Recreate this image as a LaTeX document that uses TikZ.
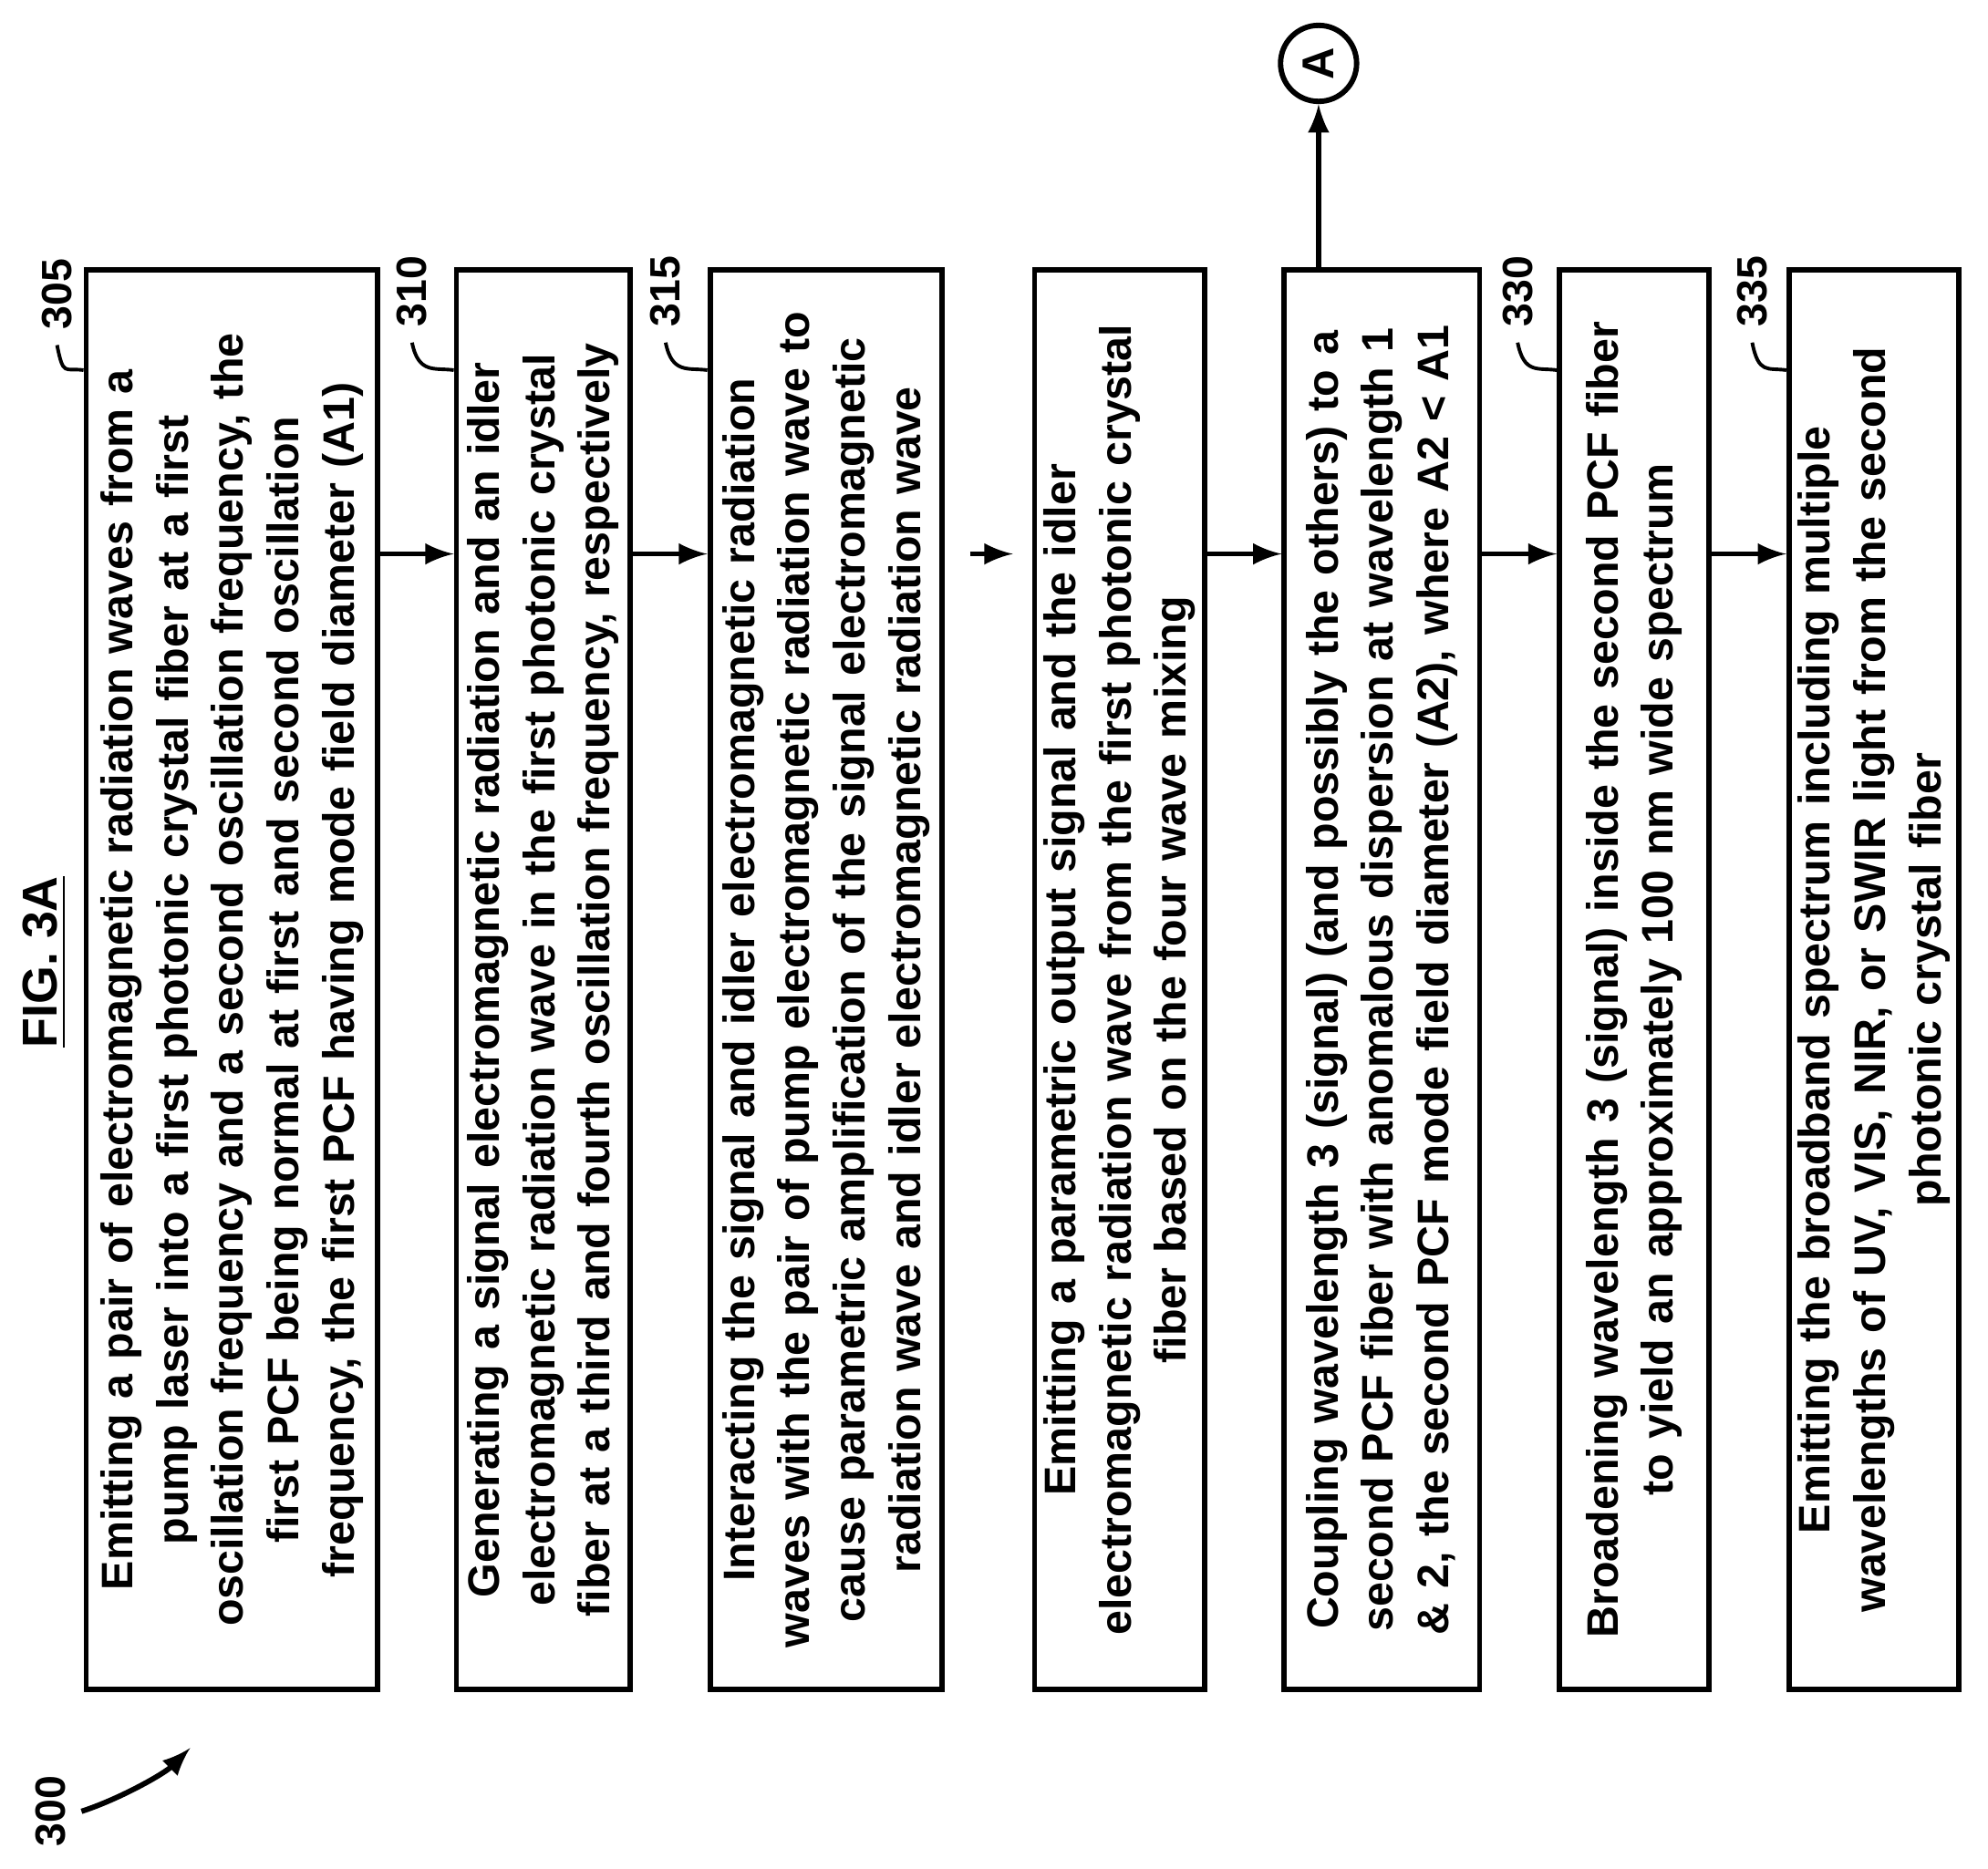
\documentclass[tikz,border=0pt]{standalone}
\usepackage{fontspec}
\setmainfont{Liberation Sans}
\usetikzlibrary{positioning}

\begin{document}
\begin{tikzpicture}[
        stepbox/.style={rectangle, draw=black, very thick, rotate=90, minimum width=11.2cm, inner sep=2pt,
                        text width=10.9cm, align=center, font=\bfseries\fontsize{9.9}{12.4}\selectfont},
        flow/.style={->, >=latex, very thick},
        reflabel/.style={rotate=90, font=\bfseries\fontsize{9.5}{10}\selectfont},
        squig/.style={thick}
      ]
        \useasboundingbox (0,0) rectangle (15.68,14.74);

        \node[stepbox, minimum height=2.30cm]  (emit)   at (1.83, 7.01)  {Emitting a pair of electromagnetic radiation waves from a\\ pump laser into a first photonic crystal fiber at a first\\ oscillation frequency and a second oscillation frequency, the\\ first PCF being normal at first and second oscillation\\ frequency, the first PCF having mode field diameter (A1)};
        \node[stepbox, minimum height=1.37cm]  (gen)    at (4.285, 7.01) {Generating a signal electromagnetic radiation and an idler\\ electromagnetic radiation wave in the first photonic crystal\\ fiber at a third and fourth oscillation frequency, respectively};
        \node[stepbox, minimum height=1.83cm]  (inter)  at (6.515, 7.01) {Interacting the signal and idler electromagnetic radiation\\ waves with the pair of pump electromagnetic radiation wave to\\ cause parametric amplification of the signal electromagnetic\\ radiation wave and idler electromagnetic radiation wave};
        \node[stepbox, minimum height=1.34cm]  (output) at (8.83, 7.01)  {Emitting a parametric output signal and the idler\\ electromagnetic radiation wave from the first photonic crystal\\ fiber based on the four wave mixing};
        \node[stepbox, minimum height=1.54cm]  (couple) at (10.90, 7.01) {Coupling wavelength 3 (signal) (and possibly the others) to a\\ second PCF fiber with anomalous dispersion at wavelength 1\\ \& 2, the second PCF mode field diameter (A2), where A2 < A1};
        \node[stepbox, minimum height=1.18cm]  (broad)  at (12.89, 7.01) {Broadening wavelength 3 (signal) inside the second PCF fiber\\ to yield an approximately 100 nm wide spectrum};
        \node[stepbox, minimum height=1.34cm]  (bband)  at (14.78, 7.01) {Emitting the broadband spectrum including multiple\\ wavelengths of UV, VIS, NIR, or SWIR light from the second\\ photonic crystal fiber};

        \coordinate (ay) at (0, 10.37);
        \coordinate (ax) at (10.40, 0);
        \draw[flow]  (emit.south |- ay)   -- (gen.north |- ay);
        \draw[flow]  (gen.south |- ay)    -- (inter.north |- ay);
        \draw[flow]  ([xshift=2mm]inter.south |- ay)  -- ([xshift=-1.5mm]output.north |- ay);
        \draw[flow]  (output.south |- ay) -- (couple.north |- ay);
        \draw[flow]  (couple.south |- ay) -- (broad.north |- ay);
        \draw[flow]  (broad.south |- ay)  -- (bband.north |- ay);

        \node[circle, draw=black, very thick, minimum size=0.6cm, inner sep=0pt, rotate=90, font=\bfseries\fontsize{10}{12}\selectfont]  (conA) at (10.40, 14.24) {A};
        \draw[flow]  (couple.east -| ax) -- (conA.west);

        % figure title and reference numerals
        \node[rotate=90, font=\bfseries\fontsize{11}{13}\selectfont] (title) at (0.35, 7.15) {\underline{FIG. 3A}};
        \node[reflabel] (n305) at (0.45, 12.42) {305};
        \node[reflabel] (n310) at (3.25, 12.44) {310};
        \node[reflabel] (n315) at (5.25, 12.44) {315};
        \node[reflabel] (n330) at (11.97, 12.44) {330};
        \node[reflabel] (n335) at (13.82, 12.44) {335};
        \draw[squig] (n305.west) .. controls +(0.05,-0.25) and +(-0.15,0.02) .. (emit.north |- 0,11.82);
        \draw[squig] (n310.west) .. controls +(0.05,-0.25) and +(-0.15,0.02) .. (gen.north |- 0,11.82);
        \draw[squig] (n315.west) .. controls +(0.05,-0.25) and +(-0.15,0.02) .. (inter.north |- 0,11.82);
        \draw[squig] (n330.west) .. controls +(0.05,-0.25) and +(-0.15,0.02) .. (broad.north |- 0,11.82);
        \draw[squig] (n335.west) .. controls +(0.05,-0.25) and +(-0.15,0.02) .. (bband.north |- 0,11.82);

        \node[reflabel] (n300) at (0.40, 0.45) {300};
        \draw[flow] (n300.south) .. controls (0.95,0.55) and (1.30,0.75) .. (1.50,0.95);
      \end{tikzpicture}
\end{document}
